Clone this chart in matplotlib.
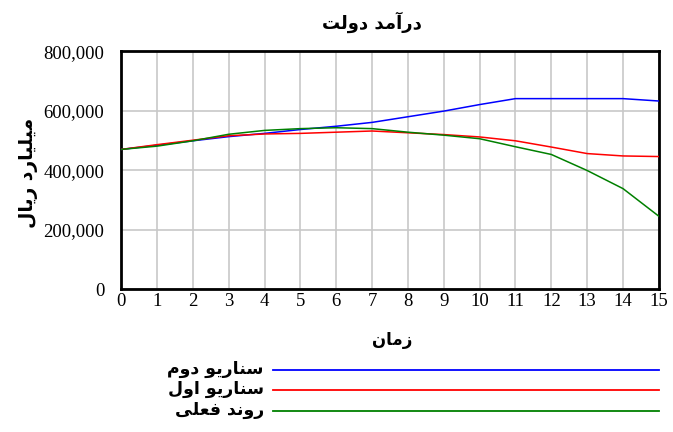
import matplotlib
matplotlib.use("Agg")
import matplotlib.pyplot as plt
from matplotlib.lines import Line2D
from matplotlib.ticker import FuncFormatter

# سال‌ها و سه سناریو (میلیارد ریال)
years = list(range(16))
scenario2 = [470000, 484000, 499000, 513000, 524000, 537000, 548000, 561000,
             580000, 599000, 621000, 641000, 641000, 641000, 641000, 633000]
scenario1 = [470000, 486000, 501000, 516000, 522000, 524000, 528000, 532000,
             526000, 520000, 512000, 499000, 478000, 456000, 448000, 446000]
current = [470000, 481000, 499000, 521000, 534000, 540000, 543000, 540000,
           528000, 518000, 506000, 479000, 453000, 399000, 338000, 245000]

series_names = ["سناریو دوم", "سناریو اول", "روند فعلی"]
series_colors = ["#0000ff", "#ff0000", "#008000"]
y_ticks = [0, 200000, 400000, 600000, 800000]

# matplotlib does not shape Arabic script: pick presentation forms by hand
# (isolated, final, initial, medial)
FORMS = {
    "ا": ("\uFE8D", "\uFE8E", None, None),
    "آ": ("\uFE81", "\uFE82", None, None),
    "د": ("\uFEA9", "\uFEAA", None, None),
    "ر": ("\uFEAD", "\uFEAE", None, None),
    "ز": ("\uFEAF", "\uFEB0", None, None),
    "و": ("\uFEED", "\uFEEE", None, None),
    "م": ("\uFEE1", "\uFEE2", "\uFEE3", "\uFEE4"),
    "ل": ("\uFEDD", "\uFEDE", "\uFEDF", "\uFEE0"),
    "ت": ("\uFE95", "\uFE96", "\uFE97", "\uFE98"),
    "ن": ("\uFEE5", "\uFEE6", "\uFEE7", "\uFEE8"),
    "س": ("\uFEB1", "\uFEB2", "\uFEB3", "\uFEB4"),
    "ع": ("\uFEC9", "\uFECA", "\uFECB", "\uFECC"),
    "ف": ("\uFED1", "\uFED2", "\uFED3", "\uFED4"),
    "ی": ("\uFEEF", "\uFEF0", "\uFEF3", "\uFEF4"),
}


def fa(text):
    out = []
    for i, ch in enumerate(text):
        if ch not in FORMS:
            out.append(ch)
            continue
        prev = text[i - 1] if i > 0 else ""
        nxt = text[i + 1] if i + 1 < len(text) else ""
        join_prev = prev in FORMS and FORMS[prev][2] is not None
        join_next = FORMS[ch][2] is not None and nxt in FORMS
        iso, fin, ini, med = FORMS[ch]
        if join_prev and join_next:
            out.append(med)
        elif join_prev:
            out.append(fin)
        elif join_next:
            out.append(ini)
        else:
            out.append(iso)
    return "".join(reversed(out))


fa_font = dict(family="DejaVu Sans", fontweight="bold")
num_font = "Liberation Serif"

fig = plt.figure(figsize=(6.73, 4.32), dpi=100)
ax = fig.add_axes([0.18, 0.331, 0.799, 0.55])

for vals, color in zip([scenario2, scenario1, current], series_colors):
    ax.plot(years, vals, color=color, linewidth=1.1, zorder=3)

ax.set_xlim(0, 15)
ax.set_ylim(0, 800000)
ax.set_xticks(years)
ax.set_yticks(y_ticks)
ax.yaxis.set_major_formatter(FuncFormatter(lambda v, p: f"{int(v):,}"))
ax.grid(True, color="#c8c8c8", linewidth=1.2)
ax.tick_params(axis="x", length=0, pad=3)
ax.tick_params(axis="y", length=0, pad=12)
for lab in ax.get_xticklabels() + ax.get_yticklabels():
    lab.set_fontfamily(num_font)
    lab.set_fontsize(13.5)
for sp in ax.spines.values():
    sp.set_linewidth(2.0)
    sp.set_color("black")

fig.text(0.553, 0.948, fa("درآمد دولت"), ha="center", va="center", fontsize=13, **fa_font)
fig.text(0.583, 0.213, fa("زمان"), ha="center", va="center", fontsize=12, **fa_font)
fig.text(0.043, 0.60, fa("میلیارد ریال"), ha="center", va="center", rotation=90,
         fontsize=13.5, **fa_font)

# legend drawn under the chart, labels to the left of long lines
legend_y = [0.143, 0.097, 0.049]
for name, color, ly in zip(series_names, series_colors, legend_y):
    fig.add_artist(Line2D([0.405, 0.979], [ly, ly], color=color, linewidth=1.3,
                          transform=fig.transFigure))
    fig.text(0.392, ly + 0.003, fa(name), ha="right", va="center", fontsize=12.5, **fa_font)

fig.savefig("out.png", dpi=100)
